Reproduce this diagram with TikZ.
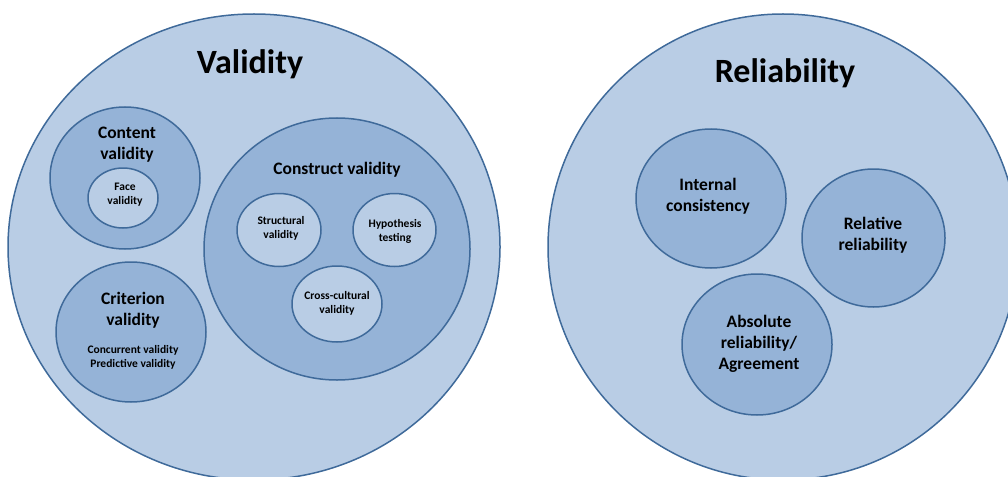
\documentclass[tikz,border=0pt]{standalone}
\usepackage{fontspec}
\setmainfont{Carlito}
\usetikzlibrary{shapes.geometric}
\definecolor{lightfill}{HTML}{B9CDE5}
\definecolor{midfill}{HTML}{95B3D7}
\definecolor{edgeblue}{HTML}{3F6A9A}
\tikzset{
  oval/.style={ellipse, draw=edgeblue, line width=1.5pt, inner sep=0pt},
  outerov/.style={oval, fill=lightfill},
  midov/.style={oval, fill=midfill},
  innerov/.style={oval, fill=lightfill},
  title/.style={font=\fontsize{34}{40}\selectfont\bfseries, text=black},
  lab/.style={font=\fontsize{17.5}{21}\selectfont\bfseries, align=center, text=black},
  small/.style={font=\fontsize{11.5}{14}\selectfont\bfseries, align=center, text=black},
}
\begin{document}
\begin{tikzpicture}[x=1pt,y=-1pt]
\useasboundingbox (0,0) rectangle (1008,476);
\clip (0,0) rectangle (1008,476);
% Validity
\node[outerov, minimum width=492pt, minimum height=466pt] (val) at (254,247) {};
\node[title] (valt) at (250,64) {Validity};
\node[midov, minimum width=150pt, minimum height=142pt] (cont) at (125,178) {};
\node[lab] (contt) at (127,145) {Content\\validity};
\node[innerov, minimum width=70pt, minimum height=60pt] (face) at (123,198) {};
\node[small] (facet) at (125,195) {Face\\validity};
\node[midov, minimum width=150pt, minimum height=140pt] (crit) at (131,332) {};
\node[lab] (critt) at (133,310) {Criterion\\validity};
\node[small] (critsub) at (133,357) {Concurrent validity\\Predictive validity};
\node[midov, minimum width=266pt, minimum height=262pt] (cons) at (337,249) {};
\node[lab] (const) at (337,170) {Construct validity};
\node[innerov, minimum width=84pt, minimum height=73pt] (struc) at (279,230) {};
\node[small] (struct) at (281,228) {Structural\\validity};
\node[innerov, minimum width=83pt, minimum height=73pt] (hyp) at (394.5,230) {};
\node[small] (hypt) at (395,231) {Hypothesis\\testing};
\node[innerov, minimum width=90pt, minimum height=76pt] (cross) at (337,304) {};
\node[small] (crosst) at (337,303) {Cross-cultural\\validity};
% Reliability
\node[outerov, minimum width=470pt, minimum height=466pt] (rel) at (783,247) {};
\node[title] (relt) at (785,73) {Reliability};
\node[midov, minimum width=150pt, minimum height=139pt] (ic) at (711,198.5) {};
\node[lab] (ict) at (708,196) {Internal\\consistency};
\node[midov, minimum width=143pt, minimum height=138pt] (rr) at (873.5,238) {};
\node[lab] (rrt) at (873,235) {Relative\\reliability};
\node[midov, minimum width=150pt, minimum height=141pt] (ar) at (757,344.5) {};
\node[lab] (art) at (759,344) {Absolute\\reliability/\\Agreement};
\end{tikzpicture}
\end{document}
